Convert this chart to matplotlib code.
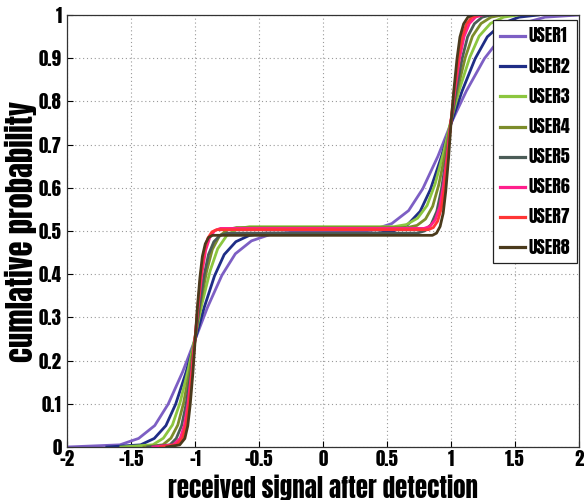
import matplotlib
matplotlib.use("Agg")
import matplotlib.pyplot as plt

step_frac = [0.0, 0.01, 0.04, 0.1, 0.2, 0.35, 0.5, 0.65, 0.8, 0.9, 0.96, 0.99, 1.0]

users = ["USER1", "USER2", "USER3", "USER4", "USER5", "USER6", "USER7", "USER8"]
colors = ["#7d5fc4", "#1f2d86", "#8cc63f", "#7c8c2a", "#4b5c57", "#ff1f8c", "#ff3535", "#4a3a1c"]

# plateau level between the two steps
plateau = [0.497, 0.495, 0.510, 0.508, 0.495, 0.506, 0.503, 0.490]

# x offsets from -1 for the lower step, at each step fraction
low_off = [
    [-1.00, -0.588, -0.441, -0.315, -0.210, -0.097, 0, 0.097, 0.210, 0.315, 0.441, 0.588, 0.756],
    [-0.69, -0.426, -0.319, -0.228, -0.152, -0.070, 0, 0.070, 0.152, 0.228, 0.319, 0.426, 0.547],
    [-0.58, -0.330, -0.248, -0.177, -0.118, -0.054, 0, 0.054, 0.118, 0.177, 0.248, 0.330, 0.425],
    [-0.40, -0.252, -0.189, -0.135, -0.090, -0.041, 0, 0.041, 0.090, 0.135, 0.189, 0.252, 0.324],
    [-0.37, -0.196, -0.147, -0.105, -0.070, -0.032, 0, 0.032, 0.070, 0.105, 0.147, 0.196, 0.252],
    [-0.33, -0.170, -0.116, -0.083, -0.055, -0.025, 0, 0.025, 0.055, 0.083, 0.116, 0.154, 0.198],
    [-0.27, -0.145, -0.099, -0.071, -0.047, -0.022, 0, 0.022, 0.047, 0.071, 0.099, 0.132, 0.169],
    [-0.22, -0.120, -0.080, -0.057, -0.038, -0.017, 0, 0.017, 0.038, 0.057, 0.080, 0.106, 0.137],
]

# x offsets from +1 for the upper step, at each step fraction
high_off = [
    [-0.792, -0.616, -0.462, -0.330, -0.220, -0.101, 0, 0.121, 0.263, 0.395, 0.552, 0.736, 1.000],
    [-0.576, -0.448, -0.336, -0.240, -0.160, -0.074, 0, 0.087, 0.190, 0.285, 0.399, 0.532, 0.684],
    [-0.446, -0.347, -0.260, -0.186, -0.124, -0.057, 0, 0.068, 0.148, 0.221, 0.310, 0.413, 0.531],
    [-0.340, -0.265, -0.198, -0.142, -0.095, -0.043, 0, 0.052, 0.113, 0.169, 0.236, 0.315, 0.405],
    [-0.265, -0.206, -0.154, -0.110, -0.074, -0.034, 0, 0.040, 0.088, 0.131, 0.184, 0.245, 0.315],
    [-0.209, -0.162, -0.122, -0.087, -0.058, -0.027, 0, 0.032, 0.069, 0.104, 0.145, 0.193, 0.248],
    [-0.176, -0.137, -0.103, -0.074, -0.049, -0.023, 0, 0.027, 0.059, 0.089, 0.124, 0.165, 0.212],
    [-0.144, -0.112, -0.084, -0.060, -0.040, -0.018, 0, 0.022, 0.048, 0.071, 0.100, 0.133, 0.171],
]

xticks = [-2, -1.5, -1, -0.5, 0, 0.5, 1, 1.5, 2]
xticklabels = ["-2", "-1.5", "-1", "-0.5", "0", "0.5", "1", "1.5", "2"]
yticks = [0, 0.1, 0.2, 0.3, 0.4, 0.5, 0.6, 0.7, 0.8, 0.9, 1]
yticklabels = ["0", "0.1", "0.2", "0.3", "0.4", "0.5", "0.6", "0.7", "0.8", "0.9", "1"]

# Impact-like condensed face, with a fallback
plt.rcParams["font.family"] = ["Anton", "DejaVu Sans"]

fig = plt.figure(figsize=(5.84, 5.0), dpi=100)
ax = fig.add_axes([0.115, 0.106, 0.876, 0.864])

for name, col, p, lo, hi in zip(users, colors, plateau, low_off, high_off):
    xs = [-1 + o for o in lo] + [1 + o for o in hi]
    ys = [p * f for f in step_frac] + [p + (1 - p) * f for f in step_frac]
    ax.plot(xs, ys, color=col, lw=2.0, label=name, solid_joinstyle="round")

ax.set_xlim(-2, 2)
ax.set_ylim(0, 1)
ax.set_xticks(xticks)
ax.set_xticklabels(xticklabels)
ax.set_yticks(yticks)
ax.set_yticklabels(yticklabels)
ax.tick_params(direction="in", length=4, labelsize=13.5, width=0.8)
ax.tick_params(axis="y", pad=4)
ax.tick_params(axis="x", pad=2)
ax.grid(True, linestyle=(0, (1, 2.5)), color="#999999", lw=0.8)
ax.set_axisbelow(True)
for s in ax.spines.values():
    s.set_color("#333333")
    s.set_linewidth(0.9)

ax.set_xlabel("received signal after detection", fontsize=18, labelpad=5)
ax.set_ylabel("cumlative probability", fontsize=22, labelpad=1)

leg = ax.legend(loc="upper right", bbox_to_anchor=(0.997, 0.988), borderaxespad=0,
                fontsize=13, handlelength=1.35, handletextpad=0.2, labelspacing=0.73,
                fancybox=False, framealpha=1, edgecolor="#222222", borderpad=0.4)
leg.get_frame().set_linewidth(0.9)
for line in leg.get_lines():
    line.set_linewidth(2.3)

fig.savefig("out.png", dpi=100)
